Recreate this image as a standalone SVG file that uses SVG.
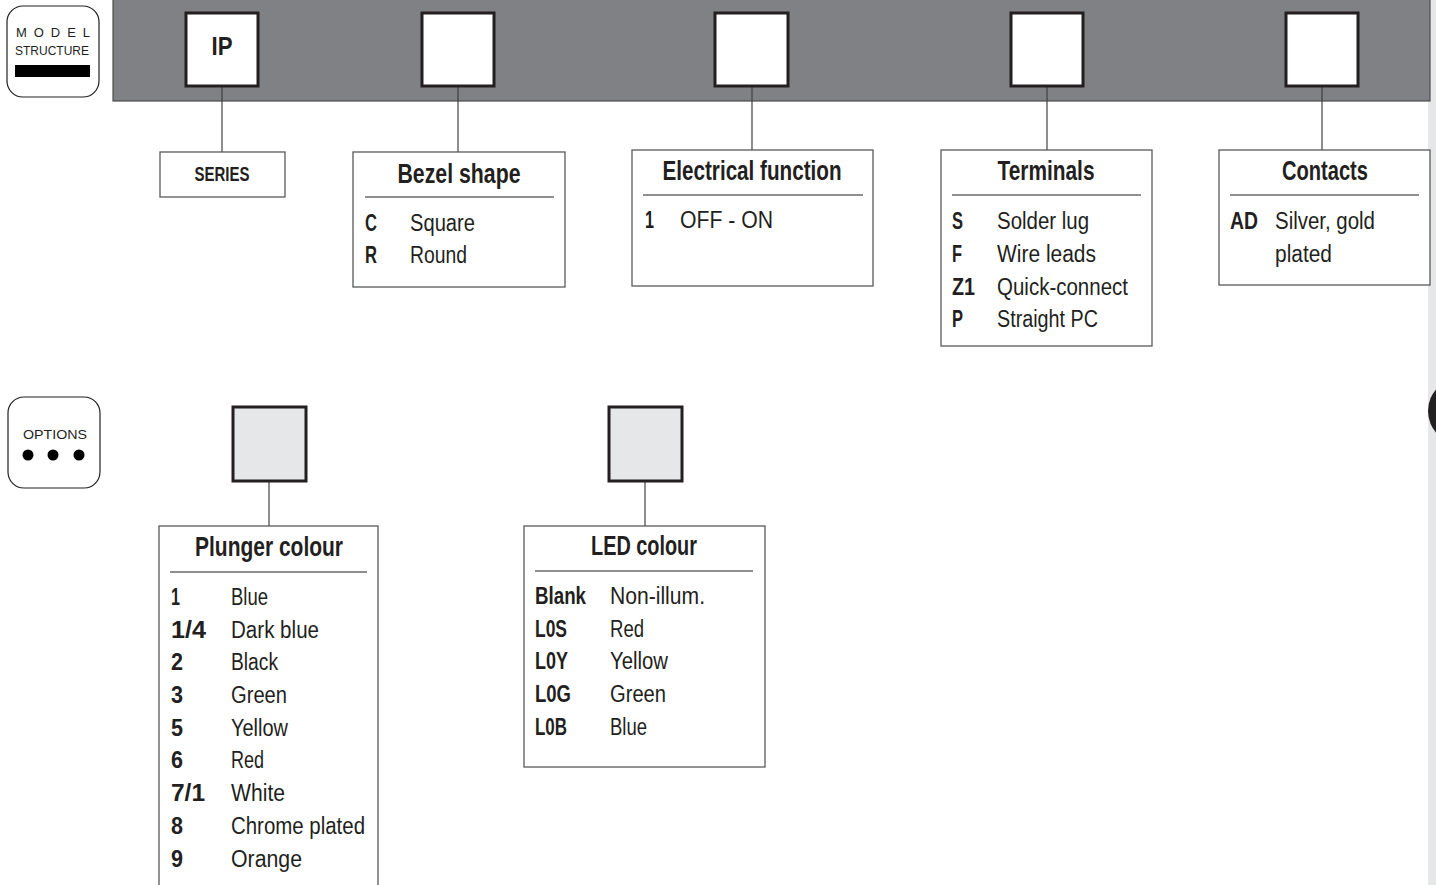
<svg xmlns="http://www.w3.org/2000/svg" width="1436" height="885" viewBox="0 0 1436 885">
<style>
.band{fill:#808184;stroke:#4d4d4f;stroke-width:1.2}
.sq{fill:#fff;stroke:#231f20;stroke-width:3}
.osq{fill:#e6e7e8;stroke:#231f20;stroke-width:3}
.box{fill:#fff;stroke:#58595b;stroke-width:1.3}
.sep{stroke:#231f20;stroke-width:1}
.conn{stroke:#414042;stroke-width:1.2;fill:none}
.icon{fill:#fff;stroke:#231f20;stroke-width:1.2}
text{fill:#231f20;font-family:"Liberation Sans",Arial,sans-serif}
.h{font-size:28px;font-weight:bold;text-anchor:middle}
.c{font-size:23px;font-weight:bold}
.v{font-size:23px}
.ic{font-size:13px}
</style>
<rect x="1428" y="0" width="8" height="885" fill="#e6e7e8"/>
<circle cx="1461" cy="411" r="33" fill="#231f20"/>
<g id="model-structure-icon">
<rect class="icon" x="7" y="6" width="92" height="91" rx="16"/>
<text class="ic" x="53" y="37" text-anchor="middle" textLength="74" lengthAdjust="spacing">M O D E L</text>
<text class="ic" x="52" y="55" text-anchor="middle" textLength="74" lengthAdjust="spacingAndGlyphs" font-size="12">STRUCTURE</text>
<rect x="15" y="65" width="75" height="12" fill="#000"/>
</g>
<g id="options-icon">
<rect class="icon" x="8" y="397" width="92" height="91" rx="16"/>
<text class="ic" x="55" y="439" text-anchor="middle" textLength="64" lengthAdjust="spacingAndGlyphs">OPTIONS</text>
<circle cx="28" cy="455" r="5.5" fill="#000"/>
<circle cx="53" cy="455" r="5.5" fill="#000"/>
<circle cx="79" cy="455" r="5.5" fill="#000"/>
</g>
<g id="band">
<rect class="band" x="113" y="-2" width="1317" height="103"/>
</g>
<g id="connectors">
<line class="conn" x1="222" y1="87" x2="222" y2="152"/>
<line class="conn" x1="458" y1="87" x2="458" y2="152"/>
<line class="conn" x1="752" y1="87" x2="752" y2="150"/>
<line class="conn" x1="1047" y1="87" x2="1047" y2="150"/>
<line class="conn" x1="1322" y1="87" x2="1322" y2="150"/>
<line class="conn" x1="269" y1="481" x2="269" y2="526"/>
<line class="conn" x1="645" y1="481" x2="645" y2="526"/>
</g>
<g id="sq-ip">
<rect class="sq" x="186" y="13" width="72" height="73"/>
<text x="222" y="55" font-size="26" font-weight="bold" text-anchor="middle" textLength="21" lengthAdjust="spacingAndGlyphs">IP</text>
</g>
<g id="sq-bezel"><rect class="sq" x="422" y="13" width="72" height="73"/></g>
<g id="sq-electrical"><rect class="sq" x="715" y="13" width="73" height="73"/></g>
<g id="sq-terminals"><rect class="sq" x="1011" y="13" width="72" height="73"/></g>
<g id="sq-contacts"><rect class="sq" x="1286" y="13" width="72" height="73"/></g>
<g id="sq-plunger"><rect class="osq" x="233" y="407" width="73" height="74"/></g>
<g id="sq-led"><rect class="osq" x="609" y="407" width="73" height="74"/></g>
<g id="series">
<rect class="box" x="160" y="152" width="125" height="45"/>
<text x="222" y="181" font-size="20" font-weight="bold" text-anchor="middle" textLength="55" lengthAdjust="spacingAndGlyphs">SERIES</text>
</g>
<g id="bezel">
<rect class="box" x="353" y="152" width="212" height="135"/>
<text class="h" x="459" y="183" textLength="123" lengthAdjust="spacingAndGlyphs">Bezel shape</text>
<line class="sep" x1="365" y1="197" x2="554" y2="197"/>
<text class="c" x="365" y="231" textLength="12" lengthAdjust="spacingAndGlyphs">C</text>
<text class="v" x="410" y="231" textLength="65" lengthAdjust="spacingAndGlyphs">Square</text>
<text class="c" x="365" y="263" textLength="12" lengthAdjust="spacingAndGlyphs">R</text>
<text class="v" x="410" y="263" textLength="57" lengthAdjust="spacingAndGlyphs">Round</text>
</g>
<g id="electrical">
<rect class="box" x="632" y="150" width="241" height="136"/>
<text class="h" x="752" y="180" textLength="179" lengthAdjust="spacingAndGlyphs">Electrical function</text>
<line class="sep" x1="643" y1="195" x2="863" y2="195"/>
<text class="c" x="645" y="228" textLength="9" lengthAdjust="spacingAndGlyphs">1</text>
<text class="v" x="680" y="228" textLength="93" lengthAdjust="spacingAndGlyphs">OFF - ON</text>
</g>
<g id="terminals">
<rect class="box" x="941" y="150" width="211" height="196"/>
<text class="h" x="1046" y="180" textLength="97" lengthAdjust="spacingAndGlyphs">Terminals</text>
<line class="sep" x1="952" y1="195" x2="1141" y2="195"/>
<text class="c" x="952" y="229" textLength="11" lengthAdjust="spacingAndGlyphs">S</text>
<text class="v" x="997" y="229" textLength="92" lengthAdjust="spacingAndGlyphs">Solder lug</text>
<text class="c" x="952" y="262" textLength="10" lengthAdjust="spacingAndGlyphs">F</text>
<text class="v" x="997" y="262" textLength="99" lengthAdjust="spacingAndGlyphs">Wire leads</text>
<text class="c" x="952" y="295" textLength="23" lengthAdjust="spacingAndGlyphs">Z1</text>
<text class="v" x="997" y="295" textLength="131" lengthAdjust="spacingAndGlyphs">Quick-connect</text>
<text class="c" x="952" y="327" textLength="11" lengthAdjust="spacingAndGlyphs">P</text>
<text class="v" x="997" y="327" textLength="101" lengthAdjust="spacingAndGlyphs">Straight PC</text>
</g>
<g id="contacts">
<rect class="box" x="1219" y="150" width="211" height="135"/>
<text class="h" x="1325" y="180" textLength="86" lengthAdjust="spacingAndGlyphs">Contacts</text>
<line class="sep" x1="1230" y1="195" x2="1419" y2="195"/>
<text class="c" x="1230" y="229" textLength="28" lengthAdjust="spacingAndGlyphs">AD</text>
<text class="v" x="1275" y="229" textLength="100" lengthAdjust="spacingAndGlyphs">Silver, gold</text>
<text class="v" x="1275" y="262" textLength="57" lengthAdjust="spacingAndGlyphs">plated</text>
</g>
<g id="plunger">
<rect class="box" x="159" y="526" width="219" height="380"/>
<text class="h" x="269" y="556" textLength="148" lengthAdjust="spacingAndGlyphs">Plunger colour</text>
<line class="sep" x1="170" y1="572" x2="367" y2="572"/>
<text class="c" x="171" y="605" textLength="9" lengthAdjust="spacingAndGlyphs">1</text>
<text class="v" x="231" y="605" textLength="37" lengthAdjust="spacingAndGlyphs">Blue</text>
<text class="c" x="171" y="638" textLength="35" lengthAdjust="spacingAndGlyphs">1/4</text>
<text class="v" x="231" y="638" textLength="88" lengthAdjust="spacingAndGlyphs">Dark blue</text>
<text class="c" x="171" y="670" textLength="12" lengthAdjust="spacingAndGlyphs">2</text>
<text class="v" x="231" y="670" textLength="47" lengthAdjust="spacingAndGlyphs">Black</text>
<text class="c" x="171" y="703" textLength="12" lengthAdjust="spacingAndGlyphs">3</text>
<text class="v" x="231" y="703" textLength="56" lengthAdjust="spacingAndGlyphs">Green</text>
<text class="c" x="171" y="736" textLength="12" lengthAdjust="spacingAndGlyphs">5</text>
<text class="v" x="231" y="736" textLength="57" lengthAdjust="spacingAndGlyphs">Yellow</text>
<text class="c" x="171" y="768" textLength="12" lengthAdjust="spacingAndGlyphs">6</text>
<text class="v" x="231" y="768" textLength="33" lengthAdjust="spacingAndGlyphs">Red</text>
<text class="c" x="171" y="801" textLength="34" lengthAdjust="spacingAndGlyphs">7/1</text>
<text class="v" x="231" y="801" textLength="54" lengthAdjust="spacingAndGlyphs">White</text>
<text class="c" x="171" y="834" textLength="12" lengthAdjust="spacingAndGlyphs">8</text>
<text class="v" x="231" y="834" textLength="134" lengthAdjust="spacingAndGlyphs">Chrome plated</text>
<text class="c" x="171" y="867" textLength="12" lengthAdjust="spacingAndGlyphs">9</text>
<text class="v" x="231" y="867" textLength="71" lengthAdjust="spacingAndGlyphs">Orange</text>
</g>
<g id="led">
<rect class="box" x="524" y="526" width="241" height="241"/>
<text class="h" x="644" y="555" textLength="106" lengthAdjust="spacingAndGlyphs">LED colour</text>
<line class="sep" x1="535" y1="571" x2="753" y2="571"/>
<text class="c" x="535" y="604" textLength="51" lengthAdjust="spacingAndGlyphs">Blank</text>
<text class="v" x="610" y="604" textLength="95" lengthAdjust="spacingAndGlyphs">Non-illum.</text>
<text class="c" x="535" y="637" textLength="32" lengthAdjust="spacingAndGlyphs">L0S</text>
<text class="v" x="610" y="637" textLength="34" lengthAdjust="spacingAndGlyphs">Red</text>
<text class="c" x="535" y="669" textLength="33" lengthAdjust="spacingAndGlyphs">L0Y</text>
<text class="v" x="610" y="669" textLength="58" lengthAdjust="spacingAndGlyphs">Yellow</text>
<text class="c" x="535" y="702" textLength="36" lengthAdjust="spacingAndGlyphs">L0G</text>
<text class="v" x="610" y="702" textLength="56" lengthAdjust="spacingAndGlyphs">Green</text>
<text class="c" x="535" y="735" textLength="32" lengthAdjust="spacingAndGlyphs">L0B</text>
<text class="v" x="610" y="735" textLength="37" lengthAdjust="spacingAndGlyphs">Blue</text>
</g>
</svg>
